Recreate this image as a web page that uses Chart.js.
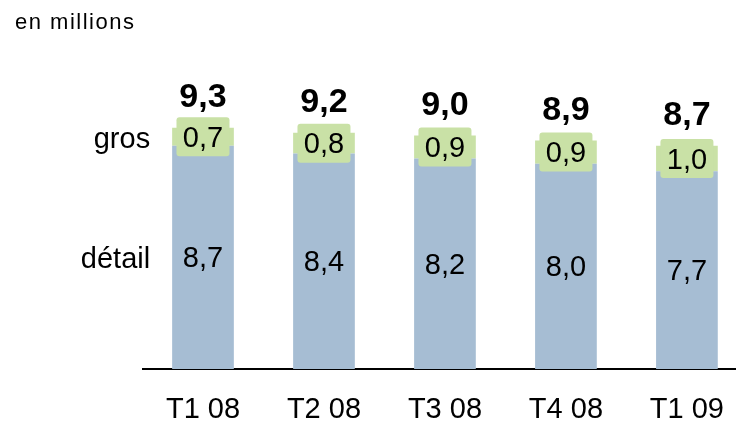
<!DOCTYPE html>
<html lang="fr">
<head>
<meta charset="utf-8">
<title>en millions</title>
<script src="https://cdn.jsdelivr.net/npm/chart.js@4.4.1/dist/chart.umd.min.js"></script>
<style>
  html, body { margin: 0; padding: 0; background: #fff; overflow: hidden; }
  #wrap { width: 748px; height: 423px; }
</style>
</head>
<body>
<div id="wrap"><canvas id="chart" width="748" height="423"></canvas></div>
<script>
// données
const trimestres = ["T1 08", "T2 08", "T3 08", "T4 08", "T1 09"];
const detail = [8.7, 8.4, 8.2, 8.0, 7.7];
const gros = [0.7, 0.8, 0.9, 0.9, 1.0];
const totaux = [9.3, 9.2, 9.0, 8.9, 8.7];
const nomsSeries = ["détail", "gros"];
const unite = "en millions";

const BLEU = "#a6bdd3";
const VERT = "#c9e1a6";
const POLICE = "'Liberation Sans', Arial, sans-serif";

const fmt = v => v.toFixed(1).replace(".", ",");

/* =========================
   ETIQUETTES (valeurs, totaux, noms des séries)
========================= */
const etiquettes = {
  id: "etiquettes",
  afterDatasetsDraw(chart) {
    const ctx = chart.ctx;
    const metaDetail = chart.getDatasetMeta(0);
    const metaGros = chart.getDatasetMeta(1);

    ctx.save();
    ctx.textAlign = "center";
    ctx.textBaseline = "middle";

    // valeurs détail
    ctx.font = "29px " + POLICE;
    ctx.fillStyle = "#000";
    metaDetail.data.forEach((bar, i) => {
      ctx.fillText(fmt(detail[i]), bar.x, (bar.y + bar.base) / 2 + 2);
    });

    // valeurs gros, sur fond vert
    metaGros.data.forEach((bar, i) => {
      const cy = (bar.y + bar.base) / 2;
      ctx.fillStyle = VERT;
      ctx.beginPath();
      ctx.roundRect(bar.x - 26.5, cy - 19.5, 53, 39, 3);
      ctx.fill();
      ctx.fillStyle = "#000";
      ctx.font = "29px " + POLICE;
      ctx.fillText(fmt(gros[i]), bar.x, cy + 2);

      ctx.font = "bold 34px " + POLICE;
      ctx.fillText(fmt(totaux[i]), bar.x, bar.y - 30);
    });

    // noms des séries à gauche
    const b0 = metaDetail.data[0];
    const g0 = metaGros.data[0];
    ctx.textAlign = "right";
    ctx.font = "29px " + POLICE;
    ctx.fillText(nomsSeries[1], b0.x - b0.width / 2 - 22, (g0.y + g0.base) / 2 + 3);
    ctx.fillText(nomsSeries[0], b0.x - b0.width / 2 - 22, (b0.y + b0.base) / 2 + 3);

    // unité
    ctx.textAlign = "left";
    ctx.textBaseline = "alphabetic";
    ctx.font = "22px " + POLICE;
    ctx.letterSpacing = "1.5px";
    ctx.fillText(unite, 15, 29);
    ctx.restore();
  }
};

/* =========================
   GRAPHIQUE
========================= */
new Chart(document.getElementById("chart"), {
  type: "bar",
  data: {
    labels: trimestres,
    datasets: [
      { label: nomsSeries[0], data: detail, backgroundColor: BLEU },
      { label: nomsSeries[1], data: gros, backgroundColor: VERT }
    ]
  },
  options: {
    responsive: false,
    devicePixelRatio: 1,
    animation: false,
    layout: { padding: { left: 142.5, right: 0, top: 61, bottom: 0 } },
    datasets: {
      bar: { barPercentage: 0.51, categoryPercentage: 1 }
    },
    plugins: {
      legend: { display: false },
      tooltip: { enabled: false }
    },
    scales: {
      x: {
        stacked: true,
        grid: { display: false, drawTicks: false },
        border: { display: true, color: "#000", width: 2 },
        ticks: {
          color: "#000",
          padding: 24,
          font: { family: POLICE, size: 29 }
        },
        afterFit(scale) {
          scale.height = 54;
        }
      },
      y: {
        stacked: true,
        display: false,
        min: 0,
        max: 12
      }
    }
  },
  plugins: [etiquettes]
});
</script>
</body>
</html>
